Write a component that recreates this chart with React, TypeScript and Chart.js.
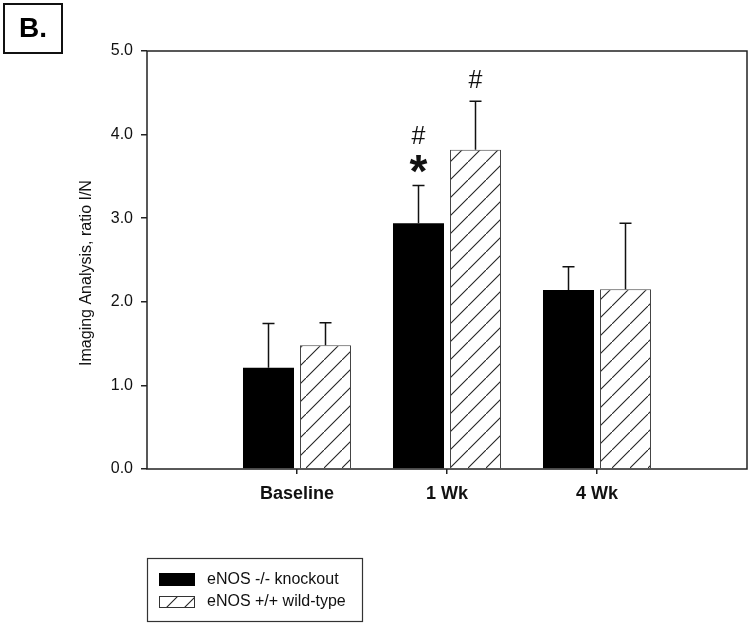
import React, { useEffect, useRef } from "react";
import { Chart, registerables } from "chart.js";

Chart.register(...registerables);

// ---- data ----
const categories = ["Baseline", "1 Wk", "4 Wk"];
const seriesNames = ["eNOS -/- knockout", "eNOS +/+ wild-type"];
const knockout = [1.21, 2.94, 2.14];
const knockoutErr = [0.53, 0.45, 0.28];
const wildtype = [1.48, 3.82, 2.15];
const wildtypeErr = [0.27, 0.58, 0.79];
const knockoutMarks = [[], ["*", "#"], []];
const wildtypeMarks = [[], ["#"], []];
const yTicks = [0, 1, 2, 3, 4, 5];
const yTitle = "Imaging Analysis, ratio I/N";
const panelLabel = "B.";

const FONT = '"Liberation Sans", Arial, Helvetica, sans-serif';
const INK = "#111";

function makeHatch(): CanvasPattern | string {
  const c = document.createElement("canvas");
  c.width = 18;
  c.height = 18;
  const g = c.getContext("2d");
  if (!g) return "#fff";
  g.fillStyle = "#fff";
  g.fillRect(0, 0, 18, 18);
  g.strokeStyle = "#222";
  g.lineWidth = 1.1;
  g.beginPath();
  g.moveTo(-2, 20);
  g.lineTo(20, -2);
  g.stroke();
  const p = g.createPattern(c, "repeat");
  return p || "#fff";
}

function drawCenteredGlyph(ctx: CanvasRenderingContext2D, text: string, x: number, cy: number) {
  ctx.textAlign = "center";
  ctx.textBaseline = "alphabetic";
  const m = ctx.measureText(text);
  const asc = m.actualBoundingBoxAscent;
  const desc = m.actualBoundingBoxDescent;
  ctx.fillText(text, x, cy + (asc - desc) / 2);
}

export default function App() {
  const ref = useRef<HTMLCanvasElement | null>(null);

  useEffect(() => {
    if (!ref.current) return;
    const hatch = makeHatch();

    const decor = {
      id: "decor",
      afterDatasetsDraw(chart: any) {
        const ctx: CanvasRenderingContext2D = chart.ctx;
        const ys = chart.scales.y;
        const sets = [
          { vals: knockout, errs: knockoutErr },
          { vals: wildtype, errs: wildtypeErr },
        ];
        ctx.save();
        ctx.strokeStyle = INK;
        ctx.lineWidth = 1.5;
        sets.forEach((s, di) => {
          const meta = chart.getDatasetMeta(di);
          meta.data.forEach((bar: any, i: number) => {
            const base = ys.getPixelForValue(s.vals[i]);
            const top = ys.getPixelForValue(s.vals[i] + s.errs[i]);
            ctx.beginPath();
            ctx.moveTo(bar.x, base);
            ctx.lineTo(bar.x, top);
            ctx.moveTo(bar.x - 6, top);
            ctx.lineTo(bar.x + 6, top);
            ctx.stroke();
          });
        });
        ctx.restore();
      },
      afterDraw(chart: any) {
        const ctx: CanvasRenderingContext2D = chart.ctx;
        const a = chart.chartArea;
        const ys = chart.scales.y;
        ctx.save();
        // frame
        ctx.strokeStyle = "#222";
        ctx.lineWidth = 1.5;
        ctx.strokeRect(a.left, a.top, a.right - a.left, a.bottom - a.top);

        // significance marks
        ctx.fillStyle = INK;
        const markSets = [
          { vals: knockout, errs: knockoutErr, marks: knockoutMarks },
          { vals: wildtype, errs: wildtypeErr, marks: wildtypeMarks },
        ];
        markSets.forEach((s, di) => {
          const meta = chart.getDatasetMeta(di);
          meta.data.forEach((bar: any, i: number) => {
            const top = ys.getPixelForValue(s.vals[i] + s.errs[i]);
            let cy = top - 22;
            s.marks[i].forEach((mk: string) => {
              if (mk === "*") {
                ctx.font = `bold 46px ${FONT}`;
              } else {
                ctx.font = `25px ${FONT}`;
              }
              drawCenteredGlyph(ctx, mk, bar.x, cy);
              cy -= 29;
            });
          });
        });

        // y title
        ctx.save();
        ctx.translate(87, 273);
        ctx.rotate(-Math.PI / 2);
        ctx.font = `16px ${FONT}`;
        ctx.textAlign = "center";
        ctx.textBaseline = "middle";
        ctx.fillText(yTitle, 0, 0);
        ctx.restore();

        // panel label
        ctx.lineWidth = 2;
        ctx.strokeStyle = "#111";
        ctx.strokeRect(4, 4, 58, 49);
        ctx.font = `bold 28px ${FONT}`;
        ctx.fillStyle = "#000";
        ctx.textAlign = "center";
        ctx.textBaseline = "middle";
        ctx.fillText(panelLabel, 33, 29);

        // legend
        ctx.lineWidth = 1.2;
        ctx.strokeStyle = "#333";
        ctx.strokeRect(147.5, 558.5, 215, 63);
        ctx.fillStyle = "#000";
        ctx.fillRect(159, 573, 36, 13);
        ctx.fillStyle = hatch as any;
        ctx.fillRect(159, 596, 36, 12);
        ctx.lineWidth = 1;
        ctx.strokeStyle = "#333";
        ctx.strokeRect(159.5, 596.5, 35, 11);
        ctx.fillStyle = INK;
        ctx.font = `16px ${FONT}`;
        ctx.textAlign = "left";
        ctx.textBaseline = "middle";
        ctx.fillText(seriesNames[0], 207, 580);
        ctx.fillText(seriesNames[1], 207, 602);
        ctx.restore();
      },
    };

    const chart = new Chart(ref.current, {
      type: "bar",
      data: {
        datasets: [
          {
            label: seriesNames[0],
            data: knockout.map((v, i) => ({ x: i + 1, y: v })),
            backgroundColor: "#000",
            borderWidth: 0,
            categoryPercentage: 0.76,
            barPercentage: 0.895,
          },
          {
            label: seriesNames[1],
            data: wildtype.map((v, i) => ({ x: i + 1, y: v })),
            backgroundColor: hatch as any,
            borderColor: "#444",
            borderWidth: 1,
            categoryPercentage: 0.76,
            barPercentage: 0.895,
          },
        ],
      },
      options: {
        responsive: false,
        animation: false,
        events: [],
        layout: { padding: { left: 0, right: 3, top: 51, bottom: 117 } },
        plugins: { legend: { display: false }, tooltip: { enabled: false }, title: { display: false } },
        scales: {
          x: {
            type: "linear",
            offset: false,
            min: 0,
            max: categories.length + 1,
            afterBuildTicks(scale: any) {
              scale.ticks = categories.map((_, i) => ({ value: i + 1 }));
            },
            afterFit(scale: any) {
              scale.height = 40;
            },
            ticks: {
              autoSkip: false,
              maxRotation: 0,
              padding: 9,
              color: INK,
              font: { family: FONT, size: 18, weight: "bold" },
              callback: (v: any) => categories[Math.round(Number(v)) - 1] ?? "",
            },
            grid: { offset: false, drawOnChartArea: false, drawTicks: true, tickLength: 5, color: "#222", lineWidth: 1.5 },
            border: { display: false },
          },
          y: {
            min: 0,
            max: 5,
            afterBuildTicks(scale: any) {
              scale.ticks = yTicks.map((v) => ({ value: v }));
            },
            afterFit(scale: any) {
              scale.width = 147;
            },
            ticks: {
              padding: 8,
              color: INK,
              font: { family: FONT, size: 16 },
              callback: (v: any) => Number(v).toFixed(1),
            },
            grid: { drawOnChartArea: false, drawTicks: true, tickLength: 6, color: "#222", lineWidth: 1.5 },
            border: { display: false },
          },
        },
      },
      plugins: [decor],
    });
    return () => chart.destroy();
  }, []);

  return (
    <div style={{ position: "absolute", left: 0, top: 0, width: 750, height: 626, background: "#fff" }}>
      <canvas ref={ref} width={750} height={626} />
    </div>
  );
}
